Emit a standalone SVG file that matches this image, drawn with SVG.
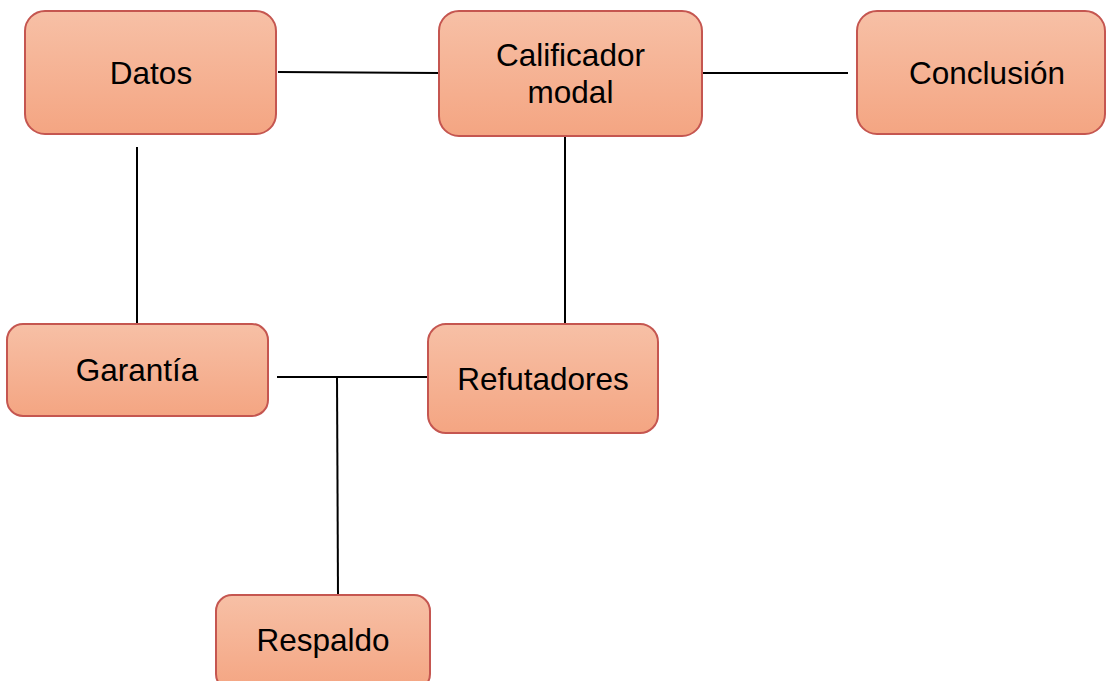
<svg xmlns="http://www.w3.org/2000/svg" width="1106" height="681" viewBox="0 0 1106 681">
<defs>
<linearGradient id="g" x1="0" y1="0" x2="0" y2="1">
<stop offset="0" stop-color="#f7c0a6"/>
<stop offset="1" stop-color="#f4a582"/>
</linearGradient>
<style>
.n{fill:url(#g);stroke:#c55650;stroke-width:2}
.t{font-family:"Liberation Sans",Arial,sans-serif;font-size:31.5px;fill:#000;text-anchor:middle}
.c{stroke:#000;stroke-width:2;fill:none}
</style>
</defs>
<rect width="1106" height="681" fill="#fff"/>
<g id="connectors">
<line class="c" x1="278" y1="72" x2="439" y2="73"/>
<line class="c" x1="702" y1="73" x2="848" y2="73"/>
<line class="c" x1="137" y1="147" x2="137" y2="324"/>
<line class="c" x1="565" y1="136" x2="565" y2="324"/>
<line class="c" x1="277" y1="377" x2="428" y2="377"/>
<line class="c" x1="337" y1="377" x2="338" y2="595"/>
</g>
<g id="datos"><rect class="n" x="25" y="11" width="251" height="123" rx="20"/><text class="t" x="151" y="84">Datos</text></g>
<g id="calificador"><rect class="n" x="439" y="11" width="263" height="125" rx="20"/><text class="t" x="570.5" y="66">Calificador</text><text class="t" x="570.5" y="103">modal</text></g>
<g id="conclusion"><rect class="n" x="857" y="11" width="248" height="123" rx="20"/><text class="t" x="987" y="84">Conclusión</text></g>
<g id="garantia"><rect class="n" x="7" y="324" width="261" height="92" rx="16"/><text class="t" x="137" y="381">Garantía</text></g>
<g id="refutadores"><rect class="n" x="428" y="324" width="230" height="109" rx="18"/><text class="t" x="543" y="390">Refutadores</text></g>
<g id="respaldo"><rect class="n" x="216" y="595" width="214" height="95" rx="16"/><text class="t" x="323" y="651">Respaldo</text></g>
</svg>
